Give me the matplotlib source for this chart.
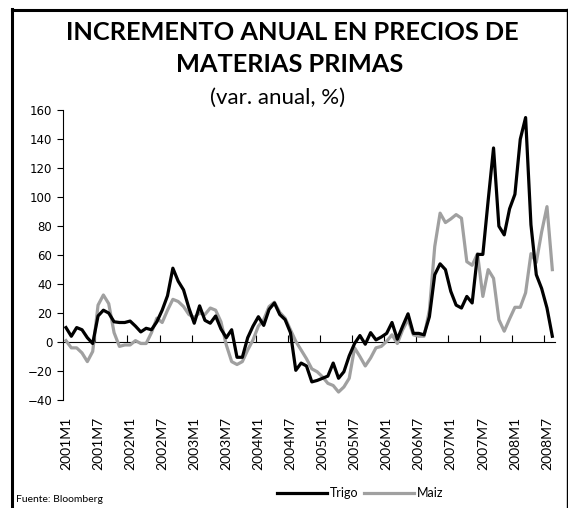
import matplotlib
matplotlib.use('Agg')
import matplotlib.pyplot as plt
from matplotlib.lines import Line2D

# variación anual (%), mensual 2001M1 - 2008M8
meses = [f'{a}M{m}' for a in range(2001, 2009) for m in range(1, 13)][:92]

trigo = [10, 4, 10, 8.5, 3, -1, 18, 22, 20, 14, 13.5, 13.5,
         14.5, 11, 7, 9.5, 8.5, 14, 22, 32, 51, 42, 36, 23.5,
         13, 25, 15, 13, 18, 9, 3, 8.5, -10.5, -10.5, 3, 11,
         17.5, 11.5, 22.5, 27, 19, 15.5, 6.5, -19.5, -14.5, -16.5, -27.5, -26.5,
         -25, -23.5, -14.5, -25, -20.5, -9.5, -1, 4.5, -1.5, 6.5, 1.5, 3.5,
         6, 13.5, 2, 11, 19.5, 6, 6, 5, 17.5, 46.5, 54, 50,
         35, 25.5, 23.5, 31.5, 27, 60.5, 60.5, 98, 134, 80, 74, 92,
         102, 140, 155, 81, 46.5, 37, 23.5, 4]

maiz = [1, -4, -4, -7.5, -13.5, -6.5, 25.5, 32.5, 26.5, 6.5, -3, -2,
        -2, 1, -1, -1, 6.5, 16.5, 13.5, 22, 29.5, 28, 24.5, 19,
        17, 20, 19, 23.5, 22, 14, -2, -13.5, -15.5, -13.5, -5.5, 1.5,
        11, 15.5, 24.5, 27.5, 20.5, 16.5, 8.5, 0.5, -5.5, -11.5, -18.5, -20.5,
        -24, -28.5, -30, -34.5, -31, -25, -4, -10, -16.5, -11, -4, -3,
        0.5, 5, -1, 8.5, 15.5, 5, 4, 4, 22, 66, 89, 82.5,
        85, 88, 85.5, 55.5, 53, 61, 31.5, 50, 44, 15.5, 7.5, 16,
        24, 24, 34, 61, 55, 76, 93.5, 50]

etiquetas = meses[::6]
yticks = [-40, -20, 0, 20, 40, 60, 80, 100, 120, 140, 160]

W, H = 568, 508
fig = plt.figure(figsize=(W / 100, H / 100), dpi=100)
ax = fig.add_axes([63.3 / W, 1 - 400 / H, (555 - 63.3) / W, (400 - 110.3) / H])

x = list(range(len(meses)))
l1, = ax.plot(x, trigo, color='black', lw=2.3, label='Trigo', zorder=3)
l2, = ax.plot(x, maiz, color='#a0a0a0', lw=2.3, label='Maiz', zorder=2)

ax.set_xlim(-0.5, len(meses) - 0.5)
ax.set_ylim(-40, 160)
ax.set_yticks(yticks)
ax.tick_params(axis='y', length=4, width=0.8, pad=4, labelsize=8.5)

ax.set_xticks(x[::6])
ax.set_xticklabels(etiquetas, rotation=90, fontfamily='Lato', fontsize=10)
ax.tick_params(axis='x', length=0, pad=12)

for s in ['top', 'right', 'bottom']:
    ax.spines[s].set_visible(False)
ax.spines['left'].set_linewidth(0.8)

# eje horizontal en cero, marcas entre categorias
sec = ax.secondary_xaxis(0.2)
sec.set_xticks([i - 0.5 for i in x[6::6]])
sec.set_xticklabels([])
sec.tick_params(direction='in', length=5, width=0.8)
sec.spines['bottom'].set_linewidth(0.8)

fig.text(0.514, 1 - 33 / H, 'INCREMENTO ANUAL EN PRECIOS DE', ha='center', va='center',
         fontfamily='Lato', fontweight='bold', fontsize=18.3)
fig.text(0.510, 1 - 65 / H, 'MATERIAS PRIMAS', ha='center', va='center',
         fontfamily='Lato', fontweight='bold', fontsize=18.3)
fig.text(0.488, 1 - 98 / H, '(var. anual, %)', ha='center', va='center',
         fontfamily='Lato', fontsize=16)
fig.text(16 / W, 1 - 500 / H, 'Fuente: Bloomberg', ha='left', va='center',
         fontfamily='Lato', fontsize=7.5)

fig.legend(handles=[l1, l2], loc='center', bbox_to_anchor=(360 / W, 1 - 493 / H),
           ncol=2, frameon=False, prop={'family': 'Lato', 'size': 9},
           handlelength=4, handletextpad=0.2, columnspacing=0.5)

# marco
fig.add_artist(Line2D([12 / W, 12 / W], [0, 1 - 9 / H], color='black', lw=2.2,
                      transform=fig.transFigure))
fig.add_artist(Line2D([12 / W, 566.5 / W], [1 - 9.5 / H, 1 - 9.5 / H], color='black', lw=2.2,
                      transform=fig.transFigure))
fig.add_artist(Line2D([566.5 / W, 566.5 / W], [0, 1 - 9 / H], color='black', lw=1,
                      transform=fig.transFigure))

fig.savefig('out.png', dpi=100)
